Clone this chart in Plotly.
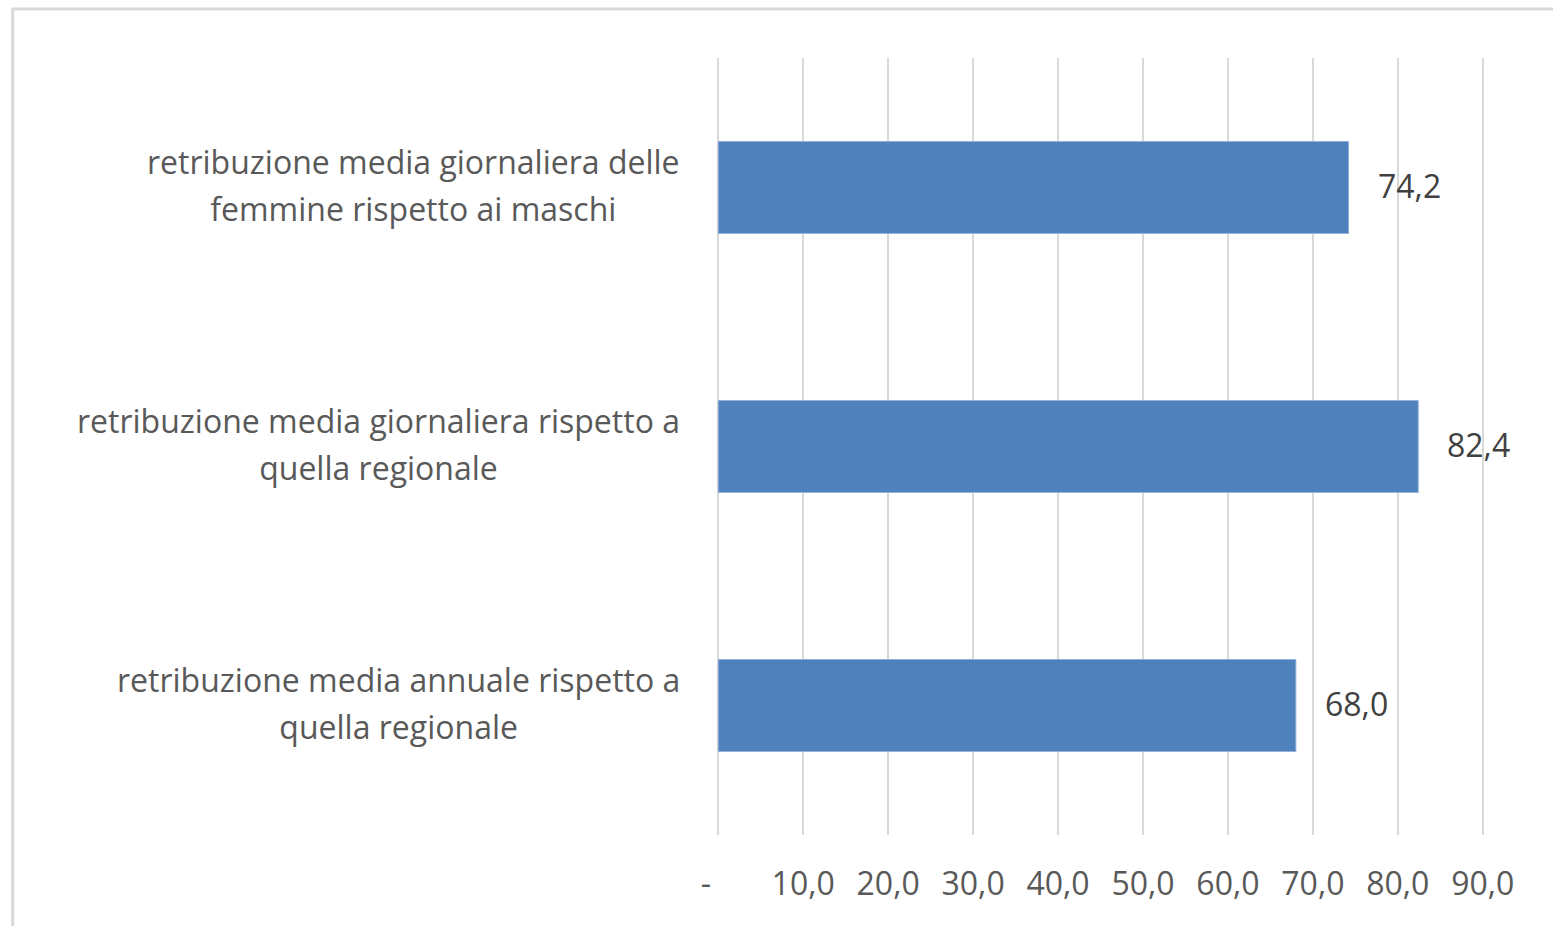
import plotly.graph_objects as go

# Data (bottom to top in the chart)
categories = [
    "retribuzione media annuale rispetto a<br>quella regionale",
    "retribuzione media giornaliera rispetto a<br>quella regionale",
    "retribuzione media giornaliera delle<br>femmine rispetto ai maschi",
]
values = [68.0, 82.4, 74.2]
tick_values = [0, 10, 20, 30, 40, 50, 60, 70, 80, 90]
# accounting-style zero: a dash padded on the right
tick_labels = ["-\u00a0\u00a0\u00a0", "10,0", "20,0", "30,0", "40,0", "50,0",
               "60,0", "70,0", "80,0", "90,0"]

FONT = "'Open Sans', Lato, sans-serif"
W, H = 1553, 926
PX_PER_UNIT = 8.5
PAD = 0.5  # small padding so the 0 and 90 gridlines are drawn
X0_PX, X90_PX = 718, 1483
L = X0_PX - PAD * PX_PER_UNIT
R = W - (X90_PX + PAD * PX_PER_UNIT)
T, B = 58, 91

fig = go.Figure()
fig.add_trace(go.Bar(
    x=values,
    y=categories,
    orientation="h",
    marker=dict(color="#4f81bd", line=dict(color="#8fb0d9", width=1)),
    width=0.355,
    hoverinfo="skip",
))

annotations = []
# Value labels to the right of each bar
for cat, v in zip(categories, values):
    annotations.append(dict(
        x=v, y=cat, xref="x", yref="y",
        text=f"{v:.1f}".replace(".", ","),
        showarrow=False, xanchor="left", yanchor="middle",
        xshift=27, yshift=2, font=dict(family=FONT, size=32, color="#404040"),
    ))
# Category labels: block right-aligned next to the axis, lines centred;
# outer font size sets the line pitch, inner span sets the glyph size
for cat in categories:
    styled = "<br>".join(
        f"<span style='font-size:32px'>{line}</span>" for line in cat.split("<br>")
    )
    annotations.append(dict(
        x=0, y=cat, xref="paper", yref="y",
        text=styled, showarrow=False, align="center",
        xanchor="right", yanchor="middle",
        xshift=-(X0_PX - 686), yshift=3,
        font=dict(family=FONT, size=36, color="#595959"),
    ))

fig.update_layout(
    width=W, height=H,
    margin=dict(l=L, r=R, t=T, b=B, pad=0),
    paper_bgcolor="white",
    plot_bgcolor="white",
    showlegend=False,
    separators=",.",
    annotations=annotations,
    xaxis=dict(
        range=[tick_values[0] - PAD, tick_values[-1] + PAD],
        tickvals=tick_values,
        ticktext=tick_labels,
        showgrid=True, gridcolor="#d9d9d9", gridwidth=2,
        zeroline=False, showline=False, ticks="",
        ticklabelstandoff=27,
        tickfont=dict(family=FONT, size=32, color="#595959"),
        fixedrange=True,
    ),
    yaxis=dict(
        showticklabels=False, showgrid=False, zeroline=False,
        showline=False, ticks="", fixedrange=True,
        categoryorder="array", categoryarray=categories,
    ),
    shapes=[dict(
        type="rect", xref="paper", yref="paper",
        x0=(12 - L) / (W - L - R), x1=1.3,
        y0=-0.3, y1=(H - B - 9) / (H - T - B),
        line=dict(color="#d9d9d9", width=3),
        fillcolor="rgba(0,0,0,0)", layer="below",
    )],
)

fig.write_html("out.html", config=dict(displayModeBar=False))
